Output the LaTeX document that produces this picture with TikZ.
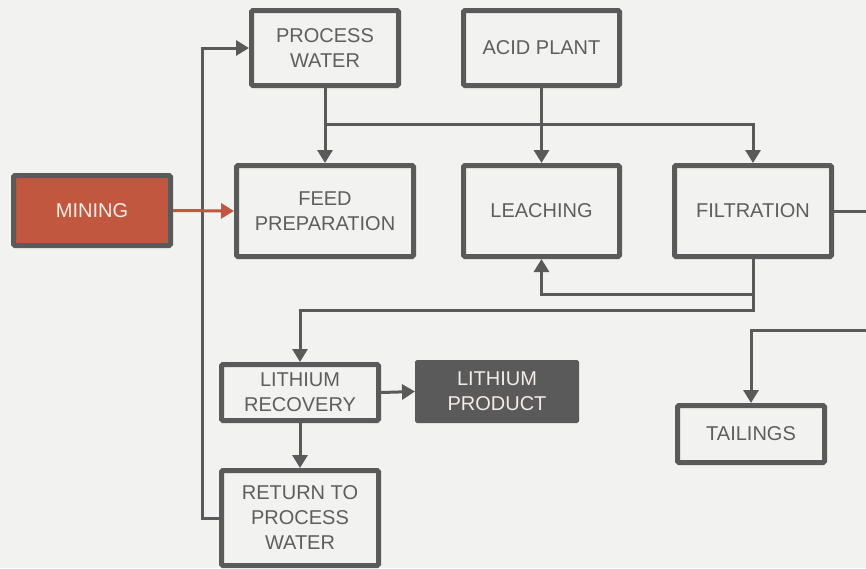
\documentclass[tikz,border=0pt]{standalone}
\usepackage{fontspec}
\setmainfont{Liberation Sans}
\usepackage{tikz}
\usetikzlibrary{arrows.meta}
\definecolor{paper}{HTML}{F2F2F0}
\definecolor{lineGray}{HTML}{5A5A5A}
\definecolor{textGray}{HTML}{5E5E5E}
\definecolor{miningRed}{HTML}{C0573E}
\definecolor{lightText}{HTML}{F4ECE8}

\begin{document}
\begin{tikzpicture}[x=1pt,y=-1pt,
  box/.style={draw=lineGray,line width=5pt,rounded corners=1.5pt,fill=paper,text=textGray,
    align=center,inner sep=0pt,font=\fontsize{20}{25}\selectfont},
  darkbox/.style={box,fill=lineGray,draw=lineGray,line width=1pt,text=lightText},
  flow/.style={draw=lineGray,line width=3pt,-{Triangle[length=13pt,width=15pt]}}]
\path[use as bounding box,fill=paper] (0,0) rectangle (866,568);
% process boxes
\node[box,fill=miningRed,text=lightText,minimum width=157pt,minimum height=70pt] (mining) at (92,210.5) {MINING};
\node[box,minimum width=147pt,minimum height=75pt] (water) at (325,48) {PROCESS\\WATER};
\node[box,minimum width=156pt,minimum height=75pt] (acid) at (541.5,48) {ACID PLANT};
\node[box,minimum width=177pt,minimum height=91pt] (feed) at (325,211) {FEED\\PREPARATION};
\node[box,minimum width=156pt,minimum height=91pt] (leach) at (541.5,211) {LEACHING};
\node[box,minimum width=157pt,minimum height=91pt] (filter) at (753,211) {FILTRATION};
\node[box,minimum width=157pt,minimum height=56pt] (recovery) at (300,392.5) {LITHIUM\\RECOVERY};
\node[darkbox,minimum width=163pt,minimum height=62pt] (product) at (497,391.5) {LITHIUM\\PRODUCT};
\node[box,minimum width=157pt,minimum height=95pt] (return) at (300,518) {RETURN TO\\PROCESS\\WATER};
\node[box,minimum width=147pt,minimum height=57pt] (tailings) at (751,434) {TAILINGS};
\coordinate (offRight) at (880,330);
% flows
\draw[flow] (water.south) -- (feed.north);
\draw[flow] (water.south) -- ++(0,36) -| (filter.north);
\draw[flow] (acid.south) -- (leach.north);
\draw[flow] (filter.east) -| (offRight) -| (tailings.north);
\draw[flow] (filter.south) -- ++(0,35) -| (leach.south);
\draw[flow] (filter.south) -- ++(0,51) -| (recovery.north);
\draw[flow] (recovery.east) -- (product.west);
\draw[flow] (recovery.south) -- (return.north);
\draw[flow] (return.west) -- ++(-17,0) |- (water.west);
\draw[flow,draw=miningRed] (mining.east) -- (feed.west);
\end{tikzpicture}
\end{document}
